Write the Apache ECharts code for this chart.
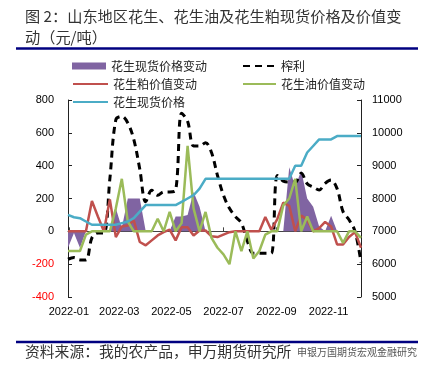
<!DOCTYPE html>
<html><head><meta charset="utf-8">
<script src="https://cdn.jsdelivr.net/npm/echarts@6/dist/echarts.min.js"></script>
<style>html,body{margin:0;padding:0;background:#fff}#c{width:430px;height:373px}</style>
</head><body><div id="c"></div>
<script>
const dates = ['2021-12-31','2022-01-07','2022-01-14','2022-01-21','2022-01-28','2022-02-04','2022-02-11','2022-02-18','2022-02-25','2022-03-04',
'2022-03-11','2022-03-18','2022-03-25','2022-04-01','2022-04-08','2022-04-15','2022-04-22','2022-04-29','2022-05-06','2022-05-13',
'2022-05-20','2022-05-27','2022-06-03','2022-06-10','2022-06-17','2022-06-24','2022-07-01','2022-07-08','2022-07-15','2022-07-22',
'2022-07-29','2022-08-05','2022-08-12','2022-08-19','2022-08-26','2022-09-02','2022-09-09','2022-09-16','2022-09-23','2022-09-30',
'2022-10-07','2022-10-14','2022-10-21','2022-10-28','2022-11-04','2022-11-11','2022-11-18','2022-11-25','2022-12-02','2022-12-09'];

// 花生现货价格变动 (left axis)
const spotChange = [-100,-10,-100,0,0,0,0,0,140,20,
200,200,200,0,0,0,0,0,90,90,
100,240,150,0,0,0,0,0,0,0,
0,0,0,0,0,0,0,390,270,370,
200,150,30,0,95,0,0,0,0,0];
// 榨利 (right axis)
const crushMargin = [6150,6200,6130,6130,6800,6950,6950,8600,10400,10500,
10300,9800,8900,7900,8250,8100,8200,8200,8250,10600,
10350,9600,9600,9700,9400,8700,8100,7700,7450,7250,
6700,6330,6330,6330,6330,8700,8530,8500,8500,8770,
8450,8350,8260,8460,8560,8300,7600,7350,7000,6050];
// 花生粕价值变动 (left axis)
const mealValueChange = [0,0,0,0,185,90,0,195,-35,30,
35,67,-65,-85,-55,-25,-5,10,-55,25,
25,-25,5,5,-30,-35,-20,-5,0,0,
0,0,0,87,10,75,175,155,0,97,
70,0,20,57,30,-80,-80,-35,-5,-100];
// 花生油价值变动 (left axis)
const oilValueChange = [-120,-120,-120,-20,0,0,0,0,140,320,
60,0,0,0,0,77,0,118,0,50,
520,140,0,118,-40,-100,-140,-200,0,-120,
0,-166,-120,-20,0,0,158,200,320,0,
90,0,0,0,0,0,-70,0,0,-40];
// 花生现货价格 (right axis)
const spotPrice = [7500,7430,7400,7300,7200,7200,7200,7200,7200,7250,
7300,7400,7600,7800,7800,7800,7800,7800,7800,7900,
8000,8100,8300,8600,8600,8600,8600,8600,8600,8600,
8600,8600,8600,8600,8600,8600,8600,8600,9000,9000,
9400,9600,9800,9800,9800,9900,9900,9900,9900,9900];

const xTickDates = ['2022-01-01','2022-03-01','2022-05-01','2022-07-01','2022-09-01','2022-11-01'];
const xTickLabels = ['2022-01','2022-03','2022-05','2022-07','2022-09','2022-11'];
const leftAxis = {min:-400, max:800, interval:200};
const rightAxis = {min:5000, max:11000, interval:1000};

const names = ['花生现货价格变动','榨利','花生粕价值变动','花生油价值变动','花生现货价格'];
const titleLine1 = '图 2：山东地区花生、花生油及花生粕现货价格及价值变';
const titleLine2 = '动（元/吨）';
const sourceText = '资料来源：我的农产品，申万期货研究所';
const watermark = '申银万国期货宏观金融研究';

// day offset from first date (date axis as day numbers)
const dayOf = s => { const p = s.split('-').map(Number); return Math.round((Date.UTC(p[0], p[1]-1, p[2]) - Date.UTC(2021, 11, 31)) / 86400000); };
const tickDays = xTickDates.map(dayOf);
const pair = arr => arr.map((v,i)=>[dayOf(dates[i]), v]);
const xMin = dayOf(dates[0]), xMax = dayOf(dates[dates.length-1]);
const numFont = 'Liberation Sans';
const cjk = 'Noto Sans CJK SC';
const legendText = {fontSize:12, color:'#222', fontFamily:cjk};

const chart = echarts.init(document.getElementById('c'), null, {renderer:'canvas'});
chart.setOption({
  animation:false,
  backgroundColor:'#fff',
  grid:{left:68, right:69, top:100, bottom:76, containLabel:false},
  legend:[
    {left:72, top:60, padding:0, itemWidth:34, itemHeight:7, selectedMode:false, itemGap:4,
     textStyle:legendText, data:[{name:names[0], icon:'rect'}]},
    {left:72, top:78, padding:0, orient:'vertical', itemWidth:35, itemHeight:12, itemGap:6, selectedMode:false,
     itemStyle:{opacity:0}, textStyle:legendText, data:[names[2], names[4]]},
    {left:242, top:60, padding:0, orient:'vertical', itemWidth:33, itemHeight:12, itemGap:6, selectedMode:false,
     itemStyle:{opacity:0}, textStyle:legendText, data:[names[1], names[3]]}
  ],
  xAxis:[
    {type:'value', min:xMin, max:xMax, position:'bottom',
     axisLine:{show:false, onZero:false}, axisTick:{show:false}, splitLine:{show:false},
     axisLabel:{customValues:tickDays, margin:9, fontSize:11, fontFamily:numFont, color:'#000',
       formatter:(v)=>{ const i = tickDays.indexOf(Math.round(v)); return i>=0 ? xTickLabels[i] : ''; }}},
    {type:'value', min:xMin, max:xMax, position:'bottom',
     axisLine:{show:true, onZero:true, lineStyle:{color:'#444', width:1}},
     axisTick:{show:true, inside:true, length:4, customValues:tickDays, lineStyle:{color:'#444'}},
     axisLabel:{show:false}, splitLine:{show:false}}
  ],
  yAxis:[
    {type:'value', min:leftAxis.min, max:leftAxis.max, interval:leftAxis.interval, position:'left',
     axisLine:{show:true, onZero:false, lineStyle:{color:'#222', width:1}},
     axisTick:{show:true, inside:true, length:4, lineStyle:{color:'#222'}},
     splitLine:{show:false},
     axisLabel:{margin:14, fontSize:11, fontFamily:numFont, formatter:(v)=>String(v),
       color:(v)=> (Number(v)<0?'#FF0000':'#000')}},
    {type:'value', min:rightAxis.min, max:rightAxis.max, interval:rightAxis.interval, position:'right',
     axisLine:{show:true, onZero:false, lineStyle:{color:'#222', width:1}},
     axisTick:{show:true, inside:true, length:4, lineStyle:{color:'#222'}},
     splitLine:{show:false},
     axisLabel:{margin:11, fontSize:11, fontFamily:numFont, color:'#000', formatter:(v)=>String(v)}}
  ],
  series:[
    {name:names[0], type:'line', xAxisIndex:0, yAxisIndex:0, data:pair(spotChange), symbol:'none',
     color:'#8064A2', lineStyle:{width:0, color:'#8064A2'}, areaStyle:{color:'#8064A2', opacity:1}, z:1},
    {name:names[1], type:'line', xAxisIndex:0, yAxisIndex:1, data:pair(crushMargin), symbol:'none', smooth:0.35,
     color:'#000', lineStyle:{width:3, color:'#000', type:[7,5]}, z:2},
    {name:names[2], type:'line', xAxisIndex:0, yAxisIndex:0, data:pair(mealValueChange), symbol:'none',
     color:'#C0504D', lineStyle:{width:2.5, color:'#C0504D'}, z:3},
    {name:names[3], type:'line', xAxisIndex:0, yAxisIndex:0, data:pair(oilValueChange), symbol:'none',
     color:'#9BBB59', lineStyle:{width:2.5, color:'#9BBB59'}, z:4},
    {name:names[4], type:'line', xAxisIndex:0, yAxisIndex:1, data:pair(spotPrice), symbol:'none',
     color:'#4BACC6', lineStyle:{width:2.5, color:'#4BACC6'}, z:5}
  ],
  graphic:[
    {type:'text', left:25, top:9, style:{text:titleLine1, font:'15.2px "'+cjk+'"', fill:'#333'}},
    {type:'text', left:25, top:30, style:{text:titleLine2, font:'15.2px "'+cjk+'"', fill:'#333'}},
    {type:'line', shape:{x1:16, y1:48.5, x2:418, y2:48.5}, style:{stroke:'#000080', lineWidth:2.3}},
    {type:'line', shape:{x1:16, y1:342, x2:418, y2:342}, style:{stroke:'#000080', lineWidth:2.3}},
    {type:'text', left:25, top:344, style:{text:sourceText, font:'14.8px "'+cjk+'"', fill:'#333'}},
    {type:'text', left:297, top:347, z:10, style:{text:watermark, font:'10px "'+cjk+'"', fill:'#555'}}
  ]
});
</script></body></html>
